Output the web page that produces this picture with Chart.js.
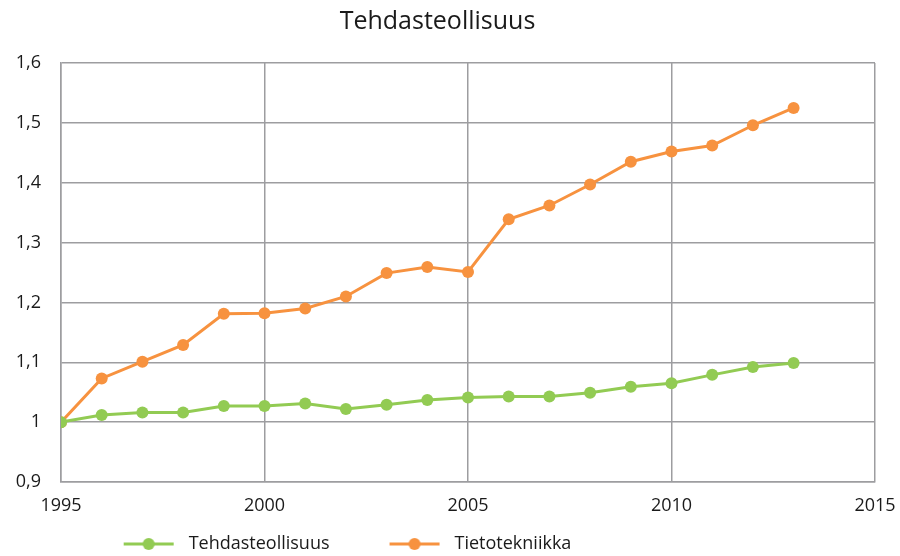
<!DOCTYPE html>
<html>

<head>
  <meta charset="utf-8">
  <title>Tehdasteollisuus</title>
  <style>
    body {
      margin: 0;
      background: #fff;
    }

    .wrap {
      width: 900px;
      height: 556px;
    }
  </style>
</head>

<body>
  <div class="wrap">
    <canvas id="chart"></canvas>
  </div>

  <script src="https://cdn.jsdelivr.net/npm/chart.js"></script>

  <script>
    const years = [1995, 1996, 1997, 1998, 1999, 2000, 2001, 2002, 2003, 2004,
      2005, 2006, 2007, 2008, 2009, 2010, 2011, 2012, 2013];
    const tehdas = [1.0, 1.012, 1.016, 1.016, 1.027, 1.027, 1.031, 1.022, 1.029, 1.037,
      1.041, 1.043, 1.043, 1.049, 1.059, 1.065, 1.079, 1.092, 1.099];
    const tieto = [1.0, 1.073, 1.101, 1.129, 1.181, 1.182, 1.190, 1.210, 1.249, 1.259,
      1.251, 1.339, 1.362, 1.397, 1.435, 1.452, 1.462, 1.496, 1.525];
    const seriesNames = ['Tehdasteollisuus', 'Tietotekniikka'];
    const xTicks = [1995, 2000, 2005, 2010, 2015];
    const yTicks = [0.9, 1.0, 1.1, 1.2, 1.3, 1.4, 1.5, 1.6];

    const GREEN = '#92cb53';
    const ORANGE = '#f7923f';
    const GRID = '#9d9da0';
    const TEXT = '#1a1a1a';
    const FONT = '"Open Sans", sans-serif';

    // line + dot sample for the legend, with blank room on the left
    // so the two entries sit further apart like in Excel
    const MARK_GAP = 56;
    function legendMark(color) {
      const c = document.createElement('canvas');
      c.width = MARK_GAP + 50 + 6;
      c.height = 14;
      const g = c.getContext('2d');
      g.strokeStyle = color;
      g.lineWidth = 3;
      g.beginPath();
      g.moveTo(MARK_GAP, 7);
      g.lineTo(MARK_GAP + 50, 7);
      g.stroke();
      g.fillStyle = color;
      g.beginPath();
      g.arc(MARK_GAP + 25, 7, 6, 0, Math.PI * 2);
      g.fill();
      return c;
    }

    const toPoints = vals => vals.map((v, i) => ({ x: years[i], y: v }));

    // Excel put the legend left of centre
    const shiftLegend = {
      id: 'shiftLegend',
      afterLayout(chart) {
        chart.legend.left = 0;
        chart.legend.right = 639;
      }
    };

    new Chart(document.getElementById('chart'), {
      type: 'line',
      data: {
        datasets: [
          {
            label: seriesNames[0],
            data: toPoints(tehdas),
            borderColor: GREEN,
            backgroundColor: GREEN,
            borderWidth: 3,
            pointRadius: 6,
            pointBorderWidth: 0,
            tension: 0
          },
          {
            label: seriesNames[1],
            data: toPoints(tieto),
            borderColor: ORANGE,
            backgroundColor: ORANGE,
            borderWidth: 3,
            pointRadius: 6,
            pointBorderWidth: 0,
            tension: 0
          }
        ]
      },
      options: {
        responsive: true,
        maintainAspectRatio: false,
        animation: false,
        layout: { padding: { left: 0, right: 25, top: 0, bottom: -7 } },
        plugins: {
          title: {
            display: true,
            text: 'Tehdasteollisuus',
            color: TEXT,
            font: { family: FONT, size: 25, weight: 'normal' },
            padding: { top: 7, bottom: 26 }
          },
          legend: {
            position: 'bottom',
            labels: {
              color: TEXT,
              font: { family: FONT, size: 18 },
              usePointStyle: true,
              pointStyleWidth: MARK_GAP + 56,
              padding: 4,
              generateLabels(chart) {
                return chart.data.datasets.map((ds, i) => ({
                  text: ds.label,
                  pointStyle: legendMark(ds.borderColor),
                  fillStyle: ds.borderColor,
                  strokeStyle: ds.borderColor,
                  lineWidth: 0,
                  datasetIndex: i,
                  fontColor: TEXT
                }));
              }
            }
          },
          tooltip: { enabled: false }
        },
        scales: {
          x: {
            type: 'linear',
            min: xTicks[0],
            max: xTicks[xTicks.length - 1],
            afterBuildTicks(scale) {
              scale.ticks = xTicks.map(v => ({ value: v }));
            },
            afterFit(scale) {
              scale.paddingLeft = 0;
              scale.paddingRight = 0;
              scale.height = 49;
            },
            ticks: {
              color: TEXT,
              font: { family: FONT, size: 18 },
              padding: 13,
              maxRotation: 0,
              callback: v => String(v)
            },
            grid: { color: GRID, lineWidth: 1.5, drawTicks: false },
            border: { color: GRID, width: 1.5 }
          },
          y: {
            min: yTicks[0],
            max: yTicks[yTicks.length - 1],
            afterBuildTicks(scale) {
              scale.ticks = yTicks.map(v => ({ value: v }));
            },
            afterFit(scale) {
              scale.width = 61;
            },
            ticks: {
              color: TEXT,
              font: { family: FONT, size: 18 },
              padding: 20,
              callback: v => (Math.round(v * 10) / 10).toString().replace('.', ',')
            },
            grid: { color: GRID, lineWidth: 1.5, drawTicks: false },
            border: { color: GRID, width: 1.5 }
          }
        }
      },
      plugins: [shiftLegend]
    });
  </script>
</body>

</html>
